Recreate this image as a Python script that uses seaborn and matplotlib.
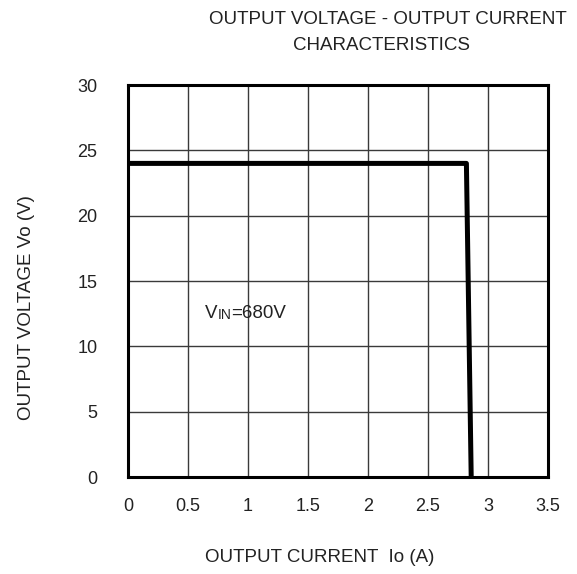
import matplotlib
matplotlib.use('Agg')
import numpy as np
import pandas as pd
import seaborn as sns
import matplotlib.pyplot as plt

sns.set_theme(style='white')
plt.rcParams['font.family'] = ['Liberation Sans', 'DejaVu Sans']

# data
current = [0.0, 2.82, 2.86]
voltage = [24.0, 24.0, 0.0]
x_ticks = [0, 0.5, 1, 1.5, 2, 2.5, 3, 3.5]
y_ticks = [0, 5, 10, 15, 20, 25, 30]

df = pd.DataFrame({'Io': current, 'Vo': voltage})

fig = plt.figure(figsize=(5.77, 5.74), dpi=100)
ax = fig.add_axes([128 / 577, 1 - 477 / 574, 420 / 577, 392 / 574])

sns.lineplot(data=df, x='Io', y='Vo', sort=False, color='black', linewidth=3.6,
             ax=ax, zorder=3)

ax.set_xlim(0, 3.5)
ax.set_ylim(0, 30)
ax.set_xticks(x_ticks)
ax.set_xticklabels([f'{t:g}' for t in x_ticks])
ax.set_yticks(y_ticks)
ax.grid(True, color='#3a3a3a', linewidth=1.0)
for s in ax.spines.values():
    s.set_color('black')
    s.set_linewidth(2.2)
ax.tick_params(length=0, labelsize=13, colors='#222222')
ax.tick_params(axis='x', pad=15)
ax.tick_params(axis='y', pad=22)
ax.set_xlabel('')
ax.set_ylabel('')

txt = dict(color='#222222', fontsize=13.5)
fig.text(320 / 577, 1 - 557 / 574, 'OUTPUT CURRENT  Io (A)', ha='center', va='center', **txt)
fig.text(27 / 577, 1 - 308 / 574, 'OUTPUT VOLTAGE Vo (V)', ha='center', va='center',
         rotation=90, **txt)
fig.text(388 / 577, 1 - 20 / 574, 'OUTPUT VOLTAGE - OUTPUT CURRENT', ha='center',
         va='center', **txt)
fig.text(382 / 577, 1 - 46 / 574, 'CHARACTERISTICS', ha='center', va='center', **txt)

t1 = ax.text(0.64, 12.2, 'V', va='baseline', **txt)
t2 = ax.annotate('IN', xy=(1, 0), xycoords=t1, va='bottom', fontsize=10, color='#222222')
ax.annotate('=680V', xy=(1, 0), xycoords=t2, va='bottom', **txt)

fig.savefig('out.png', dpi=100)
